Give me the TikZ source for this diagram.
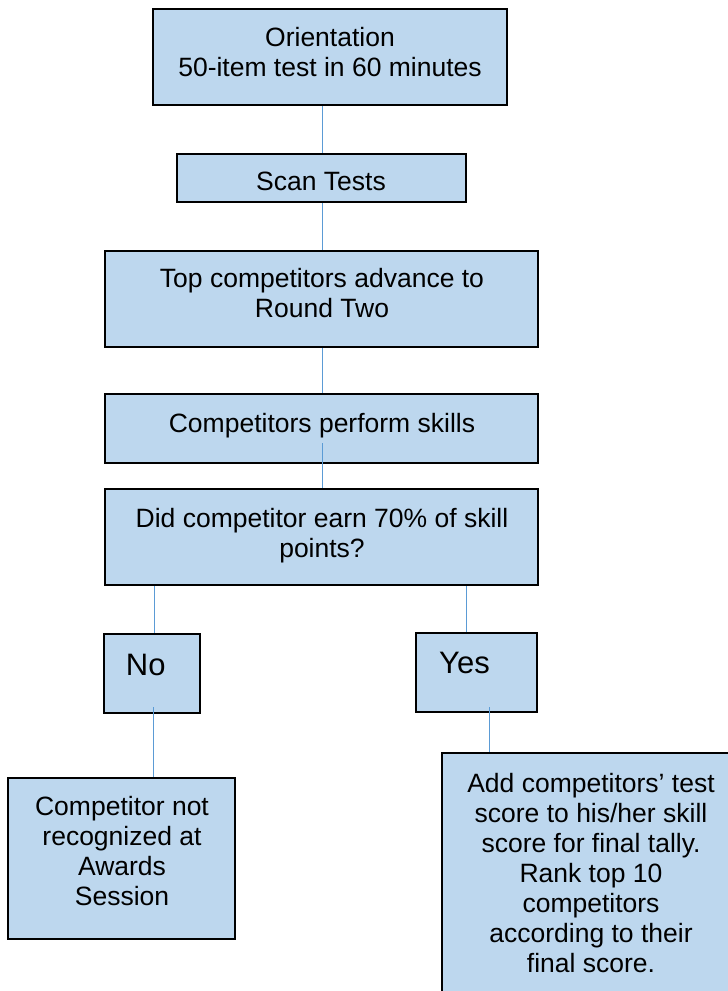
\documentclass[tikz,border=0pt]{standalone}
\usepackage{fontspec}
\setmainfont{Liberation Sans}
\definecolor{boxfill}{HTML}{BDD7EE}
\definecolor{linkblue}{HTML}{5B9BD5}
\tikzset{
  stepbox/.style={draw=black, fill=boxfill, line width=2pt, inner sep=0pt, rectangle},
  steptext/.style={anchor=north, inner sep=0pt, align=center, font=\fontsize{26.5}{30}\selectfont},
  bigtext/.style={anchor=north, inner sep=0pt, align=center, font=\fontsize{31}{34}\selectfont},
  link/.style={draw=linkblue, line width=1.4pt}
}
\begin{document}
\begin{tikzpicture}[x=1pt, y=-1pt]
\clip (0,0) rectangle (728,991);
% boxes
\node[stepbox, minimum width=354pt, minimum height=96pt] (o) at (330,57) {};
\node[stepbox, minimum width=289pt, minimum height=48pt] (scan) at (321.5,178) {};
\node[stepbox, minimum width=433pt, minimum height=96pt] (top) at (321.5,299) {};
\node[stepbox, minimum width=433pt, minimum height=69pt] (perform) at (321.5,428.5) {};
\node[stepbox, minimum width=433pt, minimum height=96pt] (did) at (321.5,537) {};
\node[stepbox, minimum width=96pt, minimum height=79pt] (no) at (152,673.5) {};
\node[stepbox, minimum width=121pt, minimum height=79pt] (yes) at (476.5,672.5) {};
\node[stepbox, minimum width=227pt, minimum height=161pt] (comp) at (121.5,858.5) {};
\node[stepbox, minimum width=298pt, minimum height=247pt] (add) at (591,876.5) {};
% texts
\node[steptext] (ot) at (330,27.2) {Orientation\\50-item test in 60 minutes};
\node[steptext] (scant) at (321,172.2) {Scan Tests};
\node[steptext] (topt) at (322,268.2) {Top competitors advance to\\Round Two};
\node[steptext] (performt) at (322,413.2) {Competitors perform skills};
\node[steptext] (didt) at (322,508.2) {Did competitor earn 70\% of skill\\points?};
\node[bigtext] (not) at (145.7,653.9) {No};
\node[bigtext] (yest) at (464.5,651.9) {Yes};
\node[steptext] (compt) at (122,796.2) {Competitor not\\recognized at\\Awards\\Session};
\node[steptext] (addt) at (591,773.2) {Add competitors’ test\\score to his/her skill\\score for final tally.\\Rank top 10\\competitors\\according to their\\final score.};
% connectors
\draw[link] ([xshift=1pt]scan.north |- o.south) -- ([xshift=1pt]scan.north);
\draw[link] ([xshift=1pt]scan.south) -- ([xshift=1pt]top.north);
\draw[link] ([xshift=1pt]top.south) -- ([xshift=1pt]perform.north);
\draw[link] ([xshift=1pt,yshift=21pt]perform.south) -- ([xshift=1pt]did.north);
\draw[link] ([xshift=2.5pt]no.north |- did.south) -- ([xshift=2.5pt]no.north);
\draw[link] ([xshift=-10pt]yes.north |- did.south) -- ([xshift=-10pt]yes.north);
\draw[link] ([xshift=1.5pt,yshift=7pt]no.south) -- ([xshift=1.5pt]no.south |- comp.north);
\draw[link] ([xshift=13pt,yshift=6pt]yes.south) -- ([xshift=13pt]yes.south |- add.north);
\end{tikzpicture}
\end{document}
